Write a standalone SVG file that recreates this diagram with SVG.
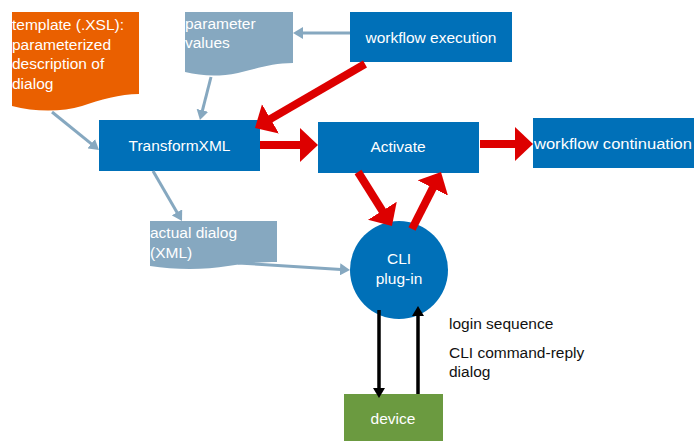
<svg xmlns="http://www.w3.org/2000/svg" width="694" height="441" viewBox="0 0 694 441">
<style>
text{font-family:"Liberation Sans",Arial,sans-serif;font-size:15.5px;}
.w{fill:#ffffff;}
.k{fill:#111111;}
.box{fill:#0070B8;}
.red{stroke:#DD0000;stroke-width:8;fill:none;}
.gray{stroke:#86A8C0;stroke-width:3;fill:none;}
.blk{stroke:#000000;stroke-width:3.5;fill:none;}
</style>
<defs>
<marker id="rh" markerUnits="userSpaceOnUse" markerWidth="20" markerHeight="36" refX="1" refY="17" orient="auto"><path d="M0,0 L18,17 L0,34 z" fill="#DD0000"/></marker>
<marker id="gh" markerUnits="userSpaceOnUse" markerWidth="12" markerHeight="12" refX="1" refY="6" orient="auto"><path d="M0,0 L10,6 L0,12 z" fill="#86A8C0"/></marker>
<marker id="bh" markerUnits="userSpaceOnUse" markerWidth="12" markerHeight="12" refX="1" refY="6" orient="auto"><path d="M0,0 L10,6 L0,12 z" fill="#000000"/></marker>
</defs>
<rect width="694" height="441" fill="#ffffff"/>
<g id="template">
<path d="M12,12 H139 V94 C120,94 100,100 82,106 C62,112 35,112 12,106 Z" fill="#EA6000"/>
<text class="w" x="12" y="30">template (.XSL):</text>
<text class="w" x="12" y="50">parameterized</text>
<text class="w" x="12" y="69">description of</text>
<text class="w" x="12" y="89">dialog</text>
</g>
<g id="parameter-values">
<path d="M185,12 H293 V63 C272,63 255,69 238,73 C218,77 202,76 185,72 Z" fill="#86A8C0"/>
<text class="w" x="185" y="29">parameter</text>
<text class="w" x="185" y="48">values</text>
</g>
<g id="workflow-execution">
<rect class="box" x="350" y="12" width="162" height="50"/>
<text class="w" x="431" y="43" text-anchor="middle">workflow execution</text>
</g>
<g id="transformxml">
<rect class="box" x="99" y="120" width="161" height="51"/>
<text class="w" x="179.5" y="151" text-anchor="middle">TransformXML</text>
</g>
<g id="activate">
<rect class="box" x="318" y="122" width="161" height="51"/>
<text class="w" x="398" y="152" text-anchor="middle">Activate</text>
</g>
<g id="workflow-continuation">
<rect class="box" x="533" y="118" width="161" height="50"/>
<text class="w" x="534" y="149" textLength="158" lengthAdjust="spacingAndGlyphs">workflow continuation</text>
</g>
<g id="actual-dialog">
<path d="M150,221 H277 V262 C262,262 245,263 228,266 C205,270 175,270 150,266 Z" fill="#86A8C0"/>
<text class="w" x="150" y="238">actual dialog</text>
<text class="w" x="150" y="258">(XML)</text>
</g>
<g id="cli-plugin">
<circle cx="399" cy="270" r="49" fill="#0070B8"/>
<text class="w" x="399" y="264" text-anchor="middle">CLI</text>
<text class="w" x="399" y="284" text-anchor="middle">plug-in</text>
</g>
<g id="device">
<rect x="344" y="394" width="99" height="47" fill="#6B9A40"/>
<text class="w" x="393" y="424" text-anchor="middle">device</text>
</g>
<g id="labels">
<text class="k" x="449" y="329">login sequence</text>
<text class="k" x="449" y="358">CLI command-reply</text>
<text class="k" x="449" y="377">dialog</text>
</g>
<g id="connectors">
<line class="red" x1="365" y1="64" x2="269.7" y2="119.4" marker-end="url(#rh)"/>
<line class="red" x1="260" y1="145" x2="301" y2="145" marker-end="url(#rh)"/>
<line class="red" x1="480" y1="144" x2="516" y2="144" marker-end="url(#rh)"/>
<line class="red" x1="358" y1="172" x2="382.9" y2="211.6" marker-end="url(#rh)"/>
<line class="red" x1="412" y1="229" x2="433.3" y2="187.1" marker-end="url(#rh)"/>
<line class="gray" x1="350" y1="33" x2="302" y2="33" marker-end="url(#gh)"/>
<line class="gray" x1="211" y1="77" x2="202.2" y2="111.3" marker-end="url(#gh)"/>
<line class="gray" x1="52" y1="112" x2="92" y2="144.3" marker-end="url(#gh)"/>
<line class="gray" x1="153" y1="171" x2="177.5" y2="213.2" marker-end="url(#gh)"/>
<line class="gray" x1="238" y1="263" x2="341" y2="269.4" marker-end="url(#gh)"/>
<line class="blk" x1="379" y1="310" x2="379" y2="389" marker-end="url(#bh)"/>
<line class="blk" x1="418" y1="394" x2="418" y2="315" marker-end="url(#bh)"/>
</g>
</svg>
